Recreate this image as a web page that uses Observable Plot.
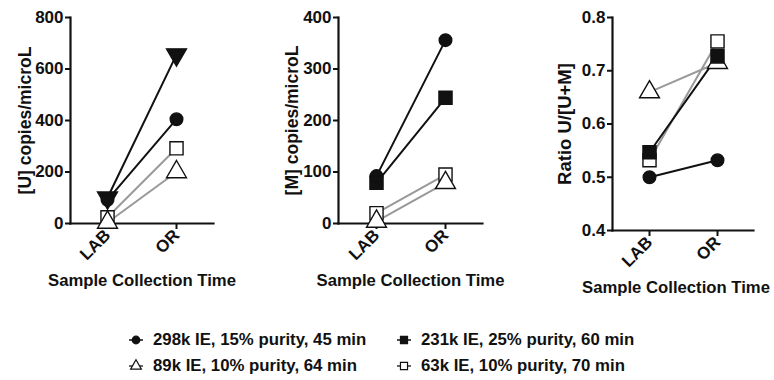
<!DOCTYPE html>
<html>
<head>
<meta charset="utf-8">
<script src="https://cdn.jsdelivr.net/npm/d3@7"></script>
<script src="https://cdn.jsdelivr.net/npm/@observablehq/plot@0.6"></script>
<style>
  html, body { margin: 0; padding: 0; background: #fff; }
  #root { position: relative; width: 774px; height: 380px; font-family: "Liberation Sans", Arial, sans-serif; font-weight: bold; color: #111; }
  .panel { position: absolute; top: 0; }
  .leg { position: absolute; display: flex; align-items: center; font-size: 16.8px; white-space: nowrap; }
  .leg svg { margin-right: 9px; }
</style>
</head>
<body>
<div id="root"></div>
<script>
const times = ["LAB", "OR"];
const series = ["298k IE, 15% purity, 45 min", "231k IE, 25% purity, 60 min", "89k IE, 10% purity, 64 min", "63k IE, 10% purity, 70 min"];
const uLab = [92, 100, 4, 24];
const uOr = [405, 656, 200, 292];
const mLab = [92, 79, 4, 20];
const mOr = [356, 244, 79, 95];
const rLab = [0.500, 0.547, 0.660, 0.532];
const rOr = [0.532, 0.727, 0.715, 0.755];
const yTicksU = [0, 200, 400, 600, 800];
const yTicksM = [0, 100, 200, 300, 400];
const yTicksR = [0.4, 0.5, 0.6, 0.7, 0.8];

const filled = [true, true, false, false];
const lineColors = ["#111", "#111", "#999", "#999"];

function rows(lab, or) {
  const out = [];
  series.forEach((s, i) => {
    out.push({series: i, time: times[0], value: lab[i]});
    out.push({series: i, time: times[1], value: or[i]});
  });
  return out;
}

function panel({data, yDomain, yTicks, yTitle, yTitleSize, left, width, height, marginLeft, marginRight, marginBottom, symbols, rotates, fmt, yTitleDx, xTitleDx}) {
  const order = [3, 2, 1, 0];
  const marks = [];
  for (const i of order) {
    const d = data.filter(r => r.series === i);
    marks.push(Plot.line(d, {x: "time", y: "value", stroke: lineColors[i], strokeWidth: 2}));
  }
  for (const i of order) {
    const d = data.filter(r => r.series === i);
    marks.push(Plot.dot(d, {
      x: "time", y: "value", symbol: () => symbols[i], rotate: rotates[i],
      r: symbols[i] === "circle" ? 6.3 : 7.4,
      fill: filled[i] ? "#111" : "#fff", stroke: "#111", strokeWidth: 1.4
    }));
  }
  const p = Plot.plot({
    width, height, marginLeft, marginRight, marginTop: 17, marginBottom,
    style: {fontFamily: '"Liberation Sans", Arial, sans-serif', fontWeight: "bold", fontSize: "17px", color: "#111", overflow: "visible"},
    x: {type: "point", domain: times, padding: 0.53},
    y: {domain: yDomain},
    symbol: {type: "identity"},
    marks: [
      Plot.axisY({ticks: yTicks, tickSize: 5, tickPadding: 2, tickFormat: fmt, label: null, strokeWidth: 2, fontSize: "17px"}),
      Plot.axisX({tickSize: 6, tickRotate: -45, tickPadding: 3, label: null, strokeWidth: 2, fontSize: "17px"}),
      Plot.frame({anchor: "left", strokeWidth: 2.2, stroke: "#111"}),
      Plot.frame({anchor: "bottom", strokeWidth: 2.2, stroke: "#111"}),
      ...marks,
      Plot.text([yTitle], {frameAnchor: "left", textAnchor: "middle", rotate: -90, dx: yTitleDx, fontSize: yTitleSize, fontWeight: "bold", fill: "#111"}),
      Plot.text(["Sample Collection Time"], {frameAnchor: "bottom", textAnchor: "middle", dx: xTitleDx, dy: 62, fontSize: 16.7, fontWeight: "bold", fill: "#111"})
    ]
  });
  p.classList.add("panel");
  p.style.left = left + "px";
  return p;
}

const root = document.getElementById("root");
root.appendChild(panel({
  data: rows(uLab, uOr), yDomain: [0, 800], yTicks: yTicksU, yTitle: "[U] copies/microL", yTitleSize: 17.5,
  left: 0, width: 258, height: 300, marginLeft: 70, marginRight: 45, marginBottom: 77,
  symbols: ["circle", "triangle", "triangle", "square"], rotates: [0, 180, 0, 0], fmt: d3.format("d"), yTitleDx: -45, xTitleDx: 0
}));
root.appendChild(panel({
  data: rows(mLab, mOr), yDomain: [0, 400], yTicks: yTicksM, yTitle: "[M] copies/microL", yTitleSize: 17.5,
  left: 260, width: 258, height: 300, marginLeft: 78, marginRight: 36, marginBottom: 77,
  symbols: ["circle", "square", "triangle", "square"], rotates: [0, 0, 0, 0], fmt: d3.format("d"), yTitleDx: -46, xTitleDx: 0
}));
root.appendChild(panel({
  data: rows(rLab, rOr), yDomain: [0.4, 0.8], yTicks: yTicksR, yTitle: "Ratio U/[U+M]", yTitleSize: 18.5,
  left: 520, width: 254, height: 310, marginLeft: 92, marginRight: 21, marginBottom: 80,
  symbols: ["circle", "square", "triangle", "square"], rotates: [0, 0, 0, 0], fmt: d3.format(".1f"), yTitleDx: -47, xTitleDx: -7
}));

// Legend
const legendPos = [[128, 340], [396, 340], [128, 366], [396, 366]];
const legSym = ["circle", "square", "triangle", "square"];
series.forEach((s, i) => {
  const div = document.createElement("div");
  div.className = "leg";
  div.style.left = legendPos[i][0] + "px";
  div.style.top = (legendPos[i][1] - 10) + "px";
  const svg = d3.create("svg").attr("width", 16).attr("height", 20);
  svg.append("line").attr("x1", 1).attr("x2", 15).attr("y1", 10).attr("y2", 10).attr("stroke", lineColors[i] === "#999" ? "#333" : "#111").attr("stroke-width", 1.5);
  const sym = {circle: d3.symbolCircle, square: d3.symbolSquare, triangle: d3.symbolTriangle}[legSym[i]];
  svg.append("path").attr("transform", "translate(8,10)")
    .attr("d", d3.symbol(sym, legSym[i] === "circle" ? 45 : 50)())
    .attr("fill", filled[i] ? "#111" : "#fff").attr("stroke", "#111").attr("stroke-width", 1.2);
  div.appendChild(svg.node());
  const span = document.createElement("span");
  span.textContent = s;
  div.appendChild(span);
  root.appendChild(div);
});
</script>
</body>
</html>
